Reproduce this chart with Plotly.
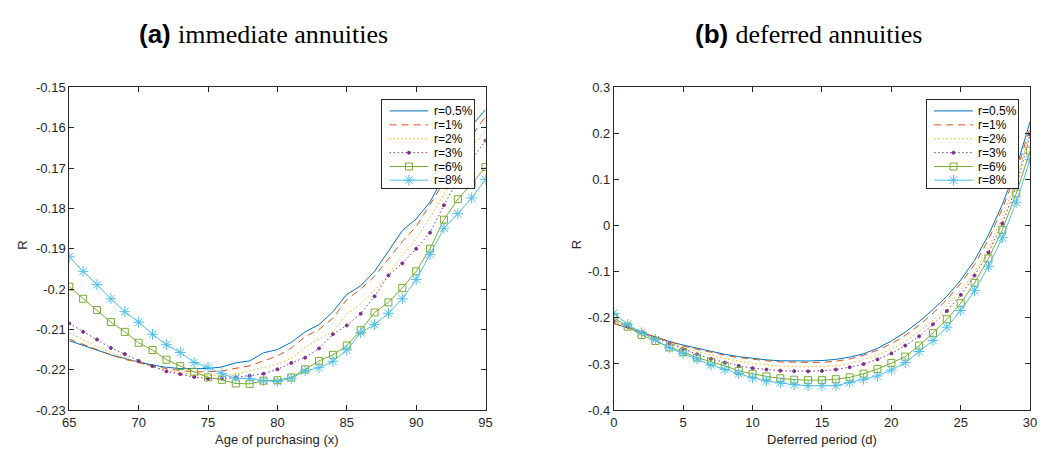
import plotly.graph_objects as go

# ---------------- data ----------------
age = list(range(65, 96))
period = list(range(0, 31))
series_names = ["r=0.5%", "r=1%", "r=2%", "r=3%", "r=6%", "r=8%"]

imm_r05 = [-0.2128, -0.2140, -0.2151, -0.2163, -0.2172, -0.2181, -0.2188, -0.2194, -0.2197, -0.2197,
           -0.2197, -0.2193, -0.2183, -0.2178, -0.2158, -0.2150, -0.2132, -0.2106, -0.2088, -0.2056,
           -0.2013, -0.1992, -0.1956, -0.1906, -0.1855, -0.1826, -0.1784, -0.1720, -0.1655, -0.1595, -0.1555]
imm_r1 = [-0.2124, -0.2137, -0.2150, -0.2163, -0.2174, -0.2183, -0.2191, -0.2197, -0.2202, -0.2205,
          -0.2205, -0.2203, -0.2197, -0.2190, -0.2178, -0.2166, -0.2146, -0.2118, -0.2100, -0.2072,
          -0.2026, -0.2000, -0.1968, -0.1925, -0.1882, -0.1845, -0.1790, -0.1735, -0.1675, -0.1620, -0.1572]
imm_r2 = [-0.2109, -0.2126, -0.2142, -0.2157, -0.2170, -0.2182, -0.2193, -0.2201, -0.2207, -0.2212,
          -0.2214, -0.2215, -0.2211, -0.2203, -0.2195, -0.2186, -0.2172, -0.2144, -0.2124, -0.2106,
          -0.2062, -0.2036, -0.2004, -0.1964, -0.1916, -0.1876, -0.1822, -0.1765, -0.1705, -0.1650, -0.1605]
imm_r3 = [-0.2085, -0.2106, -0.2125, -0.2146, -0.2161, -0.2178, -0.2191, -0.2204, -0.2211, -0.2218,
          -0.2222, -0.2222, -0.2219, -0.2215, -0.2210, -0.2199, -0.2183, -0.2170, -0.2147, -0.2112,
          -0.2090, -0.2061, -0.2018, -0.1966, -0.1936, -0.1900, -0.1860, -0.1792, -0.1730, -0.1678, -0.1632]
imm_r6 = [-0.1994, -0.2024, -0.2052, -0.2082, -0.2106, -0.2133, -0.2151, -0.2175, -0.2191, -0.2205,
          -0.2219, -0.2225, -0.2234, -0.2235, -0.2227, -0.2226, -0.2219, -0.2199, -0.2178, -0.2163,
          -0.2140, -0.2102, -0.2058, -0.2033, -0.1997, -0.1956, -0.1900, -0.1828, -0.1777, -0.1739, -0.1697]
imm_r8 = [-0.1920, -0.1956, -0.1989, -0.2024, -0.2056, -0.2082, -0.2112, -0.2138, -0.2157, -0.2182,
          -0.2194, -0.2210, -0.2221, -0.2222, -0.2227, -0.2229, -0.2221, -0.2203, -0.2195, -0.2179,
          -0.2151, -0.2108, -0.2088, -0.2060, -0.2024, -0.1976, -0.1914, -0.1849, -0.1813, -0.1774, -0.1728]

def_r05 = [-0.212, -0.222, -0.232, -0.242, -0.251, -0.259, -0.266, -0.273, -0.279, -0.284,
           -0.288, -0.291, -0.293, -0.2935, -0.2935, -0.2925, -0.290, -0.285, -0.278, -0.266,
           -0.250, -0.231, -0.208, -0.182, -0.153, -0.118, -0.075, -0.020, 0.046, 0.125, 0.226]
def_r1 = [-0.212, -0.222, -0.232, -0.242, -0.252, -0.261, -0.268, -0.275, -0.281, -0.286,
          -0.290, -0.293, -0.2955, -0.2965, -0.2965, -0.2965, -0.294, -0.289, -0.281, -0.270,
          -0.256, -0.238, -0.216, -0.190, -0.160, -0.125, -0.084, -0.030, 0.037, 0.115, 0.213]
def_r2 = [-0.210, -0.221, -0.232, -0.243, -0.254, -0.264, -0.273, -0.281, -0.288, -0.294,
          -0.299, -0.302, -0.305, -0.306, -0.3065, -0.306, -0.304, -0.299, -0.291, -0.281,
          -0.268, -0.251, -0.230, -0.205, -0.175, -0.140, -0.100, -0.048, 0.018, 0.098, 0.205]
def_r3 = [-0.207, -0.219, -0.231, -0.244, -0.256, -0.268, -0.279, -0.289, -0.297, -0.304,
          -0.309, -0.312, -0.3145, -0.3155, -0.316, -0.315, -0.312, -0.307, -0.300, -0.290,
          -0.277, -0.260, -0.240, -0.214, -0.185, -0.150, -0.108, -0.058, 0.005, 0.085, 0.198]
def_r6 = [-0.200, -0.219, -0.237, -0.250, -0.264, -0.274, -0.286, -0.295, -0.304, -0.315,
          -0.321, -0.327, -0.331, -0.334, -0.335, -0.335, -0.333, -0.329, -0.321, -0.311,
          -0.298, -0.284, -0.260, -0.233, -0.203, -0.168, -0.124, -0.071, -0.009, 0.070, 0.163]
def_r8 = [-0.190, -0.214, -0.232, -0.247, -0.265, -0.277, -0.289, -0.302, -0.312, -0.321,
          -0.330, -0.337, -0.341, -0.345, -0.347, -0.347, -0.347, -0.340, -0.333, -0.326,
          -0.313, -0.297, -0.273, -0.249, -0.220, -0.184, -0.141, -0.088, -0.026, 0.051, 0.144]

left_yticks = [-0.23, -0.22, -0.21, -0.20, -0.19, -0.18, -0.17, -0.16, -0.15]
left_ylabels = ["-0.23", "-0.22", "-0.21", "-0.2", "-0.19", "-0.18", "-0.17", "-0.16", "-0.15"]
right_yticks = [-0.4, -0.3, -0.2, -0.1, 0, 0.1, 0.2, 0.3]
right_ylabels = ["-0.4", "-0.3", "-0.2", "-0.1", "0", "0.1", "0.2", "0.3"]
left_xticks = [65, 70, 75, 80, 85, 90, 95]
right_xticks = [0, 5, 10, 15, 20, 25, 30]

# ---------------- styles ----------------
colors = ["#0072BD", "#D95319", "#EDB120", "#7E2F8E", "#77AC30", "#4DBEEE"]
dashes = ["solid", "7px,5px", "1.5px,2.5px", "1.5px,2.5px", "solid", "solid"]
has_marker = [False, False, False, True, True, True]
symbols = ["circle", "circle", "circle", "circle", "square-open", "asterisk-open"]
msizes = [1, 1, 1, 3, 7, 9]

imm = [imm_r05, imm_r1, imm_r2, imm_r3, imm_r6, imm_r8]
dfr = [def_r05, def_r1, def_r2, def_r3, def_r6, def_r8]

# page body has an 8px margin: figure drawn from (8,8)
OFF = 8
FW, FH = 1037, 441


def px(xr):
    return (xr - OFF) / FW


def py(yr):
    return 1 - (yr - OFF) / FH


fig = go.Figure()


def marker(i):
    return dict(color=colors[i], symbol=symbols[i], size=msizes[i],
                line=dict(color=colors[i], width=1))


for xa, ya, xs, ys_all in (("x", "y", age, imm), ("x2", "y2", period, dfr)):
    for i, name in enumerate(series_names):
        fig.add_trace(go.Scatter(x=xs, y=ys_all[i], name=name,
                                 mode="lines+markers" if has_marker[i] else "lines",
                                 line=dict(color=colors[i], width=1, dash=dashes[i]),
                                 marker=marker(i), xaxis=xa, yaxis=ya, showlegend=False))

# ---------------- custom legends (inset axes) ----------------
leg_rows = [0.876, 0.717, 0.559, 0.401, 0.243, 0.088]
sample_x0, sample_x1, text_x = 0.083, 0.505, 0.54
annotations = []
for lx, ly in (("x3", "y3"), ("x4", "y4")):
    for i, name in enumerate(series_names):
        fig.add_trace(go.Scatter(x=[sample_x0, sample_x1], y=[leg_rows[i]] * 2, mode="lines",
                                 line=dict(color=colors[i], width=1, dash=dashes[i]),
                                 xaxis=lx, yaxis=ly, showlegend=False, hoverinfo="skip"))
        if has_marker[i]:
            fig.add_trace(go.Scatter(x=[(sample_x0 + sample_x1) / 2], y=[leg_rows[i]], mode="markers",
                                     marker=marker(i), xaxis=lx, yaxis=ly, showlegend=False,
                                     hoverinfo="skip"))
        annotations.append(dict(text=name, x=text_x, y=leg_rows[i], xref=lx, yref=ly,
                                showarrow=False, xanchor="left", yanchor="middle",
                                font=dict(family="Liberation Sans, Arial", size=12, color="#000")))

axcol = "#262626"
tickfont = dict(family="Liberation Sans, Arial, sans-serif", size=13, color=axcol)
common_axis = dict(showline=True, linecolor=axcol, linewidth=1, mirror="ticks", ticks="inside",
                   ticklen=5, tickcolor=axcol, showgrid=False, zeroline=False, tickfont=tickfont)
leg_axis = dict(range=[0, 1], showline=True, mirror=True, linecolor=axcol, linewidth=1,
                ticks="", showticklabels=False, showgrid=False, zeroline=False, fixedrange=True)

ydom = [py(417), py(83)]
legdom_y = [py(187), py(96)]

titlefont = dict(family="Liberation Sans, Arial", size=13, color=axcol)
annotations += [
    dict(text="Age of purchasing (x)", x=px(274), y=py(447), xref="paper", yref="paper",
         showarrow=False, xanchor="center", yanchor="middle", font=titlefont),
    dict(text="Deferred period (d)", x=px(826), y=py(447), xref="paper", yref="paper",
         showarrow=False, xanchor="center", yanchor="middle", font=titlefont),
    dict(text="R", x=px(16), y=py(246), xref="paper", yref="paper", textangle=-90,
         showarrow=False, xanchor="center", yanchor="middle", font=titlefont),
    dict(text="R", x=px(578), y=py(246), xref="paper", yref="paper", textangle=-90,
         showarrow=False, xanchor="center", yanchor="middle", font=titlefont),
    dict(text="<b>(a)</b> <span style='font-family:Liberation Serif, Times New Roman, serif'>immediate annuities</span>",
         x=px(260), y=py(28), xref="paper", yref="paper", showarrow=False,
         xanchor="center", yanchor="middle",
         font=dict(family="Liberation Sans, Arial", size=26, color="#000")),
    dict(text="<b>(b)</b> <span style='font-family:Liberation Serif, Times New Roman, serif'>deferred annuities</span>",
         x=px(812), y=py(28), xref="paper", yref="paper", showarrow=False,
         xanchor="center", yanchor="middle",
         font=dict(family="Liberation Sans, Arial", size=26, color="#000")),
]

fig.update_layout(
    width=FW, height=FH, margin=dict(l=0, r=0, t=0, b=0),
    plot_bgcolor="white", paper_bgcolor="white", showlegend=False,
    xaxis=dict(domain=[px(63), px(485)], range=[65, 95], tickvals=left_xticks, anchor="y", **common_axis),
    yaxis=dict(domain=ydom, range=[-0.23, -0.15], tickvals=left_yticks, ticktext=left_ylabels,
               anchor="x", **common_axis),
    xaxis2=dict(domain=[px(615), px(1037)], range=[0, 30], tickvals=right_xticks, anchor="y2", **common_axis),
    yaxis2=dict(domain=ydom, range=[-0.4, 0.3], tickvals=right_yticks, ticktext=right_ylabels,
                anchor="x2", **common_axis),
    xaxis3=dict(domain=[px(380), px(473)], anchor="y3", **leg_axis),
    yaxis3=dict(domain=legdom_y, anchor="x3", **leg_axis),
    xaxis4=dict(domain=[px(932), px(1025)], anchor="y4", **leg_axis),
    yaxis4=dict(domain=legdom_y, anchor="x4", **leg_axis),
    annotations=annotations,
)

fig.write_html("out.html")
